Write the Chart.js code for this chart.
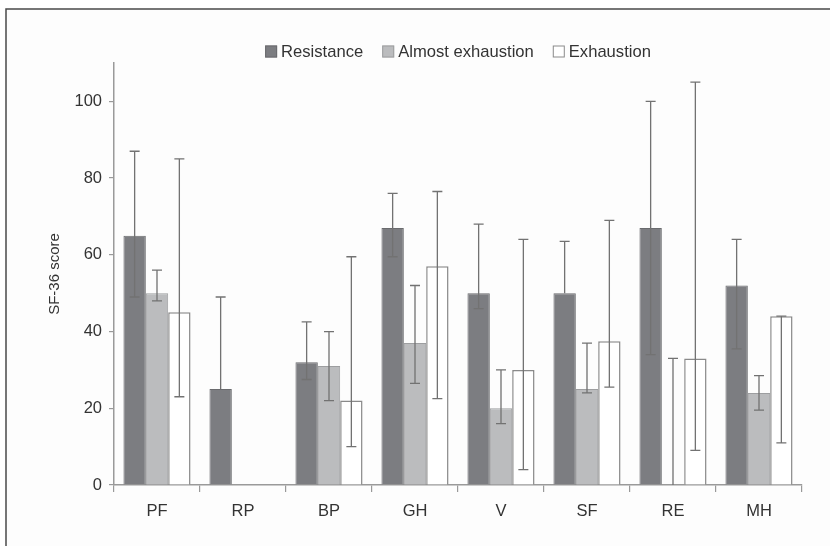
<!DOCTYPE html>
<html>
<head>
<meta charset="utf-8">
<script src="https://cdn.jsdelivr.net/npm/chart.js@4/dist/chart.umd.min.js"></script>
<style>
  html, body { margin: 0; padding: 0; background: #ffffff; }
  #wrap { width: 830px; height: 546px; }
</style>
</head>
<body>
<div id="wrap"><canvas id="c" width="830" height="546"></canvas></div>
<script>
// ---- data ----
const categories = ['PF', 'RP', 'BP', 'GH', 'V', 'SF', 'RE', 'MH'];
const seriesNames = ['Resistance', 'Almost exhaustion', 'Exhaustion'];

const resistance     = [65, 25, 32, 67, 50, 50, 67, 52];
const resistanceLow  = [49, 25, 27.5, 59.5, 46, 50, 34, 35.5];
const resistanceHigh = [87, 49, 42.5, 76, 68, 63.5, 100, 64];

const almost     = [50, 0, 31, 37, 20, 25, 0, 24];
const almostLow  = [48, null, 22, 26.5, 16, 24, 0, 19.5];
const almostHigh = [56, null, 40, 52, 30, 37, 33, 28.5];

const exhaustion     = [45, 0, 22, 57, 30, 37.5, 33, 44];
const exhaustionLow  = [23, null, 10, 22.5, 4, 25.5, 9, 11];
const exhaustionHigh = [85, null, 59.5, 76.5, 64, 69, 105, 44];

const yTicks = [0, 20, 40, 60, 80, 100];
const yMax = 110;
const yTitle = 'SF-36 score';

// ---- styles ----
const FONT = '"Liberation Sans", Arial, Helvetica, sans-serif';
const fills   = ['#7c7d81', '#bbbcbe', '#ffffff'];
const borders = ['#6a6b6e', '#9d9ea0', '#8a8a8a'];
const values = [resistance, almost, exhaustion];
const lows  = [resistanceLow, almostLow, exhaustionLow];
const highs = [resistanceHigh, almostHigh, exhaustionHigh];

const zeroBorder = (w) => (ctx) => (ctx.raw === 0 ? 0 : w);

const data = {
  labels: categories,
  datasets: [
    { label: seriesNames[0], data: resistance, backgroundColor: fills[0], borderColor: borders[0], borderWidth: zeroBorder(1) },
    { label: seriesNames[1], data: almost, backgroundColor: fills[1], borderColor: borders[1], borderWidth: zeroBorder(1) },
    { label: seriesNames[2], data: exhaustion, backgroundColor: fills[2], borderColor: borders[2], borderWidth: zeroBorder(1.5) }
  ]
};

const framePlugin = {
  id: 'frame',
  beforeDraw(chart) {
    const ctx = chart.ctx;
    ctx.save();
    ctx.fillStyle = '#ffffff';
    ctx.fillRect(0, 0, chart.width, chart.height);
    ctx.fillStyle = '#fdfdfd';
    ctx.fillRect(6, 9, chart.width, chart.height);
    ctx.strokeStyle = '#4a4a4a';
    ctx.lineWidth = 1.5;
    ctx.strokeRect(6, 9, chart.width + 20, chart.height + 20);
    ctx.restore();
  }
};

const errorBarPlugin = {
  id: 'errorBars',
  afterDatasetsDraw(chart) {
    const ctx = chart.ctx;
    const y = chart.scales.y;
    ctx.save();
    ctx.strokeStyle = '#727272';
    ctx.lineWidth = 1.3;
    chart.data.datasets.forEach((ds, di) => {
      const meta = chart.getDatasetMeta(di);
      meta.data.forEach((el, i) => {
        const lo = lows[di][i], hi = highs[di][i];
        if (lo === null || hi === null) return;
        const x = el.x;
        const yLo = y.getPixelForValue(lo);
        const yHi = y.getPixelForValue(hi);
        const cap = 5;
        ctx.beginPath();
        ctx.moveTo(x, yLo); ctx.lineTo(x, yHi);
        ctx.moveTo(x - cap, yHi); ctx.lineTo(x + cap, yHi);
        if (lo > 0 && lo !== values[di][i]) { ctx.moveTo(x - cap, yLo); ctx.lineTo(x + cap, yLo); }
        ctx.stroke();
      });
    });
    ctx.restore();
  }
};

const legendPlugin = {
  id: 'customLegend',
  afterDraw(chart) {
    const ctx = chart.ctx;
    const area = chart.chartArea;
    ctx.save();
    ctx.font = '16.6px ' + FONT;
    ctx.textBaseline = 'middle';
    const box = 12, gap = 4, spacing = 19;
    const widths = chart.data.datasets.map(d => box + gap + ctx.measureText(d.label).width);
    const total = widths.reduce((a, b) => a + b, 0) + spacing * (widths.length - 1);
    let x = (area.left + area.right) / 2 - total / 2;
    const cy = 51.5;
    chart.data.datasets.forEach((d, i) => {
      ctx.fillStyle = fills[i];
      ctx.fillRect(x, cy - box / 2, box, box);
      ctx.strokeStyle = borders[i];
      ctx.lineWidth = 1;
      ctx.strokeRect(x + 0.5, cy - box / 2 + 0.5, box - 1, box - 1);
      ctx.fillStyle = '#333333';
      ctx.fillText(d.label, x + box + gap, cy + 1);
      x += widths[i] + spacing;
    });
    ctx.restore();
  }
};

new Chart(document.getElementById('c'), {
  type: 'bar',
  data,
  options: {
    responsive: false,
    animation: false,
    devicePixelRatio: 1,
    layout: { padding: { left: 42, top: 63, right: 28, bottom: 0 } },
    datasets: { bar: { categoryPercentage: 0.78, barPercentage: 1.0 } },
    plugins: { legend: { display: false }, tooltip: { enabled: false } },
    scales: {
      x: {
        offset: true,
        grid: { display: true, drawOnChartArea: false, drawTicks: true, tickLength: 7, color: '#999999', lineWidth: 1.2, offset: true },
        border: { display: true, color: '#9a9a9a', width: 1.5 },
        ticks: { color: '#333333', font: { family: FONT, size: 16.5 }, padding: 10 },
        afterFit(scale) { scale.height = 61; }
      },
      y: {
        min: 0,
        max: yMax,
        afterBuildTicks(scale) { scale.ticks = yTicks.map(v => ({ value: v })); },
        grid: { display: true, drawOnChartArea: false, drawTicks: true, tickLength: 5, color: '#999999', lineWidth: 1.2 },
        border: { display: true, color: '#9a9a9a', width: 1.5 },
        ticks: { color: '#333333', font: { family: FONT, size: 16.5 }, padding: 7 },
        title: { display: true, text: yTitle, color: '#333333', font: { family: FONT, size: 15 }, padding: { top: 4, bottom: 4 } },
        afterFit(scale) { scale.width = 72; }
      }
    }
  },
  plugins: [framePlugin, errorBarPlugin, legendPlugin]
});
</script>
</body>
</html>
